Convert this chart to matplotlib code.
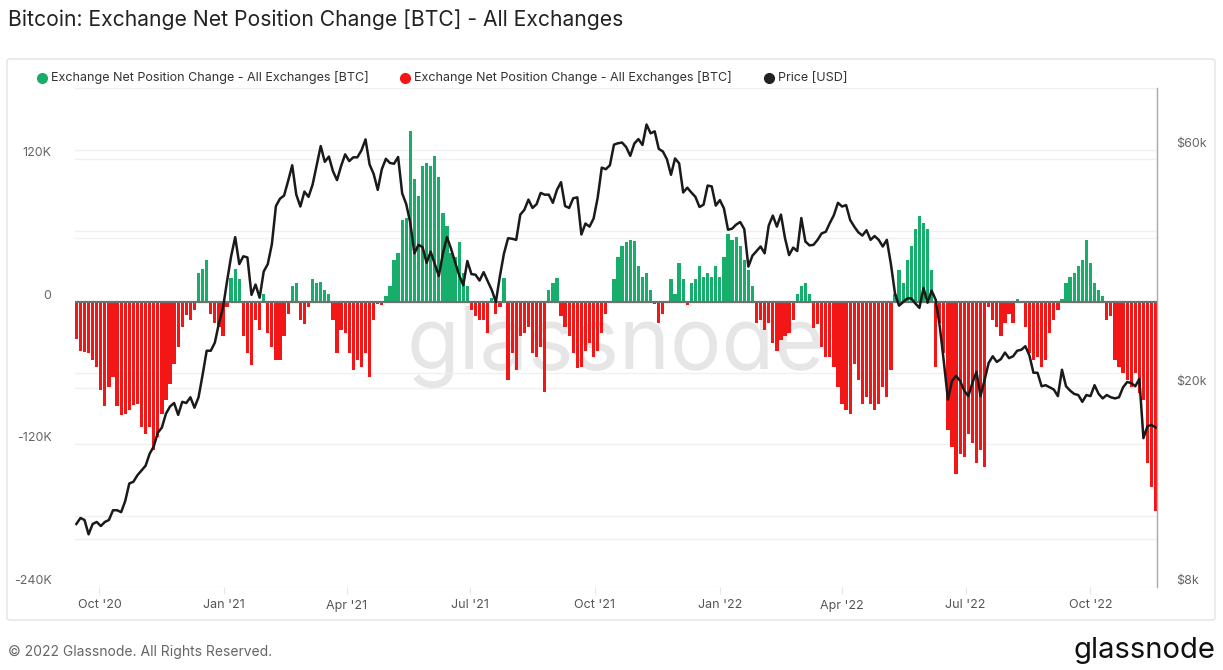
import matplotlib

matplotlib.use("Agg")
import matplotlib.dates as mdates
import matplotlib.pyplot as plt
import numpy as np
import pandas as pd
from matplotlib.patches import FancyBboxPatch
from matplotlib.ticker import FuncFormatter, NullLocator

plt.rcParams["font.family"] = ["Inter", "DejaVu Sans"]

START = "2020-09-14"
STEP = "3D"

# exchange net position change, thousands of BTC, one value every 3 days
net_change_k = [
    -31, -41, -42, -43, -49, -55, -74, -88, -72, -63, -88, -95, -94, -91, -87, -86,
    -105, -111, -105, -125, -114, -94, -83, -69, -52, -38, -21, -11, -15, -7,
    24, 28, 35, -10, -18, -21, -29, -4, 20, 28, 19, -29, -43, -53, -15, -24,
    7, -26, -38, -49, -49, -29, -10, 13, 16, -15, -19, -4, 19, 16, 17, 10, 7,
    -15, -43, -24, -26, -43, -57, -49, -55, -43, -63, -15, -2, -3,
    5, 13, 35, 41, 69, 71, 144, 103, 89, 114, 117, 114, 123, 105, 75, 64, 41, 38, 50, 24, 13,
    -7, -12, -15, -15, -26, 3, -10, -4, 20,
    -66, -43, -57, -29, -26, -21, -43, -46, -38, -76, 10, 16, 20,
    -12, -21, -29, -43, -56, -55, -41, -35, -46, -41, -26, -10, -1,
    19, 38, 47, 50, 52, 51, 30, 21, 24, 10, -2, -18, -10, 1, 19, 7, 33, 19, -3,
    16, 19, 30, 21, 24, 21, 30, 21, 38, 57, 52, 55, 47, 35, 27, 13,
    -18, -15, -24, -18, -35, -41, -32, -29, -26, -15, 7, 13, 16, 7,
    -22, -19, -38, -46, -46, -55, -72, -86, -91, -94, -52, -66, -86, -80, -86, -91, -86, -72, -80, -57,
    7, 27, 16, 35, 47, 61, 72, 66, 61, 27,
    -55, -18, -43, -108, -122, -145, -128, -131, -111, -119, -136, -125, -139,
    -4, -15, -21, -29, -18, -10, -18, 2, -1,
    -21, -43, -49, -46, -55, -49, -26, -15, -7,
    2, 16, 21, 24, 30, 35, 52, 33, 16, 10, 5,
    -15, -12, -49, -55, -60, -66, -72, -60, -77, -83, -136, -156, -176,
]

# BTC price, thousands of USD, same dates
price_k = [
    10.7, 11.0, 10.9, 10.2, 10.7, 10.8,
    10.6, 10.8, 10.9, 11.4, 11.4, 11.3, 11.9, 12.9, 13.0, 13.4,
    13.7, 14.0, 14.8, 15.3, 16.3, 16.7, 17.8, 18.4, 18.7, 17.7,
    18.8, 18.7, 19.2, 18.3, 19.2, 21.3, 23.8, 23.8, 24.7, 27.0, 29.0,
    32.8, 36.8, 40.2, 35.5, 36.8, 36.6, 30.8, 32.3, 30.4, 34.3,
    35.5, 38.9, 46.4, 48.0, 48.7, 52.1, 56.0, 48.9, 46.3,
    49.6, 48.4, 51.2, 56.0, 61.2, 56.9, 58.3, 54.5, 52.3, 55.8, 58.9,
    57.1, 58.1, 58.1, 60.0, 63.1, 56.2, 53.8, 50.0, 55.0, 57.7,
    56.6, 56.4, 58.2, 49.2, 46.8, 42.9, 37.3, 38.8, 38.4, 35.7,
    37.6, 35.5, 33.6, 37.3, 40.2, 38.1, 35.8, 33.7, 32.2, 36.0,
    33.9, 33.8, 32.9, 34.2, 32.8, 31.5, 29.8, 33.6, 37.3, 40.0,
    39.9, 39.7, 44.6, 45.6, 47.8, 46.0, 46.8, 49.3, 48.9, 48.9, 47.1,
    50.0, 51.8, 46.4, 46.0, 48.1, 48.3, 40.7, 42.8, 42.2, 43.8,
    48.2, 55.4, 55.0, 56.0, 61.6, 62.0, 62.2, 60.9, 58.5, 61.9,
    63.2, 61.5, 67.6, 64.9, 65.5, 60.4, 59.7, 57.6, 53.6, 57.8,
    56.5, 49.4, 50.5, 49.4, 48.4, 46.2, 46.7, 51.0, 50.8, 46.5,
    47.7, 45.9, 41.6, 41.8, 42.6, 43.1, 41.7, 35.1, 36.9, 37.7, 38.5,
    37.3, 42.4, 44.4, 42.2, 44.6, 40.0, 37.0, 38.3, 37.7,
    43.9, 39.4, 38.7, 38.8, 39.7, 40.9, 41.2, 42.9, 44.5, 47.1,
    46.3, 46.6, 43.5, 42.2, 41.1, 40.5, 41.5, 39.7, 40.4, 39.7,
    38.5, 39.7, 35.5, 31.0, 29.3, 29.8, 30.3, 30.3, 29.6, 29.0, 31.8,
    29.7, 31.4, 30.1, 26.6, 22.6, 19.0, 20.7, 21.2, 20.7, 19.8,
    19.3, 20.5, 21.6, 19.3, 20.8, 22.5, 23.2, 22.6, 22.9, 23.6,
    23.0, 23.2, 23.8, 23.9, 24.3, 23.3, 21.5, 21.5, 20.2, 20.3,
    20.1, 19.9, 19.3, 21.8, 20.2, 19.8, 19.5, 19.4, 18.8, 19.4,
    19.3, 20.3, 19.5, 19.1, 19.4, 19.2, 19.1, 19.2, 20.1, 20.6, 20.5,
    20.2, 20.9, 15.9, 16.8, 16.9, 16.7,
]

left_ticks = [-240000, -120000, 0, 120000]
left_labels = ["-240K", "-120K", "0", "120K"]
left_grid = [-240000, -180000, -120000, -60000, 0, 60000, 120000, 180000]
right_ticks = [8000, 20000, 60000]
right_labels = ["$8k", "$20k", "$60k"]
right_grid = [10000, 20000, 40000, 60000]

GREEN = "#17ad6a"
RED = "#f21616"
GRID = "#f0f0f0"

dates_bar = pd.date_range(START, periods=len(net_change_k), freq=STEP)
dates_price = pd.date_range(START, periods=len(price_k), freq=STEP)
net = np.array(net_change_k) * 1000.0
price = np.array(price_k) * 1000.0

W, H = 1223, 670
fig = plt.figure(figsize=(W / 100, H / 100), dpi=100)
fig.patch.set_facecolor("white")

# card frame (kept underneath every axes)
fig.patches.append(FancyBboxPatch((7 / W, 1 - 620 / H), 1208 / W, 561 / H,
                                  boxstyle="round,pad=0,rounding_size=0.003",
                                  transform=fig.transFigure, fc="white", ec="#e3e3e3",
                                  lw=1, zorder=-5))

rect = [75 / W, 1 - 587 / H, (1157 - 75) / W, (587 - 88) / H]
xlim = (pd.Timestamp("2020-09-13"), pd.Timestamp("2022-11-19"))

# background axes for the price gridlines
gax = fig.add_axes(rect, zorder=0, label="price_grid")
gax.patch.set_visible(False)
gax.set_yscale("log")
gax.set_ylim(8000, 80000)
gax.set_xlim(xlim)
gax.yaxis.set_minor_locator(NullLocator())
gax.set_yticks(right_grid)
gax.grid(axis="y", color=GRID, lw=1)
gax.tick_params(left=False, bottom=False, labelleft=False, labelbottom=False)
for s in gax.spines.values():
    s.set_visible(False)

ax = fig.add_axes(rect, zorder=1, label="bars")
ax.patch.set_visible(False)
ax.bar(dates_bar, net, width=2.4, color=np.where(net >= 0, GREEN, RED), zorder=2, lw=0)
ax.axhline(0, color="#707070", lw=1.6, zorder=3)
ax.set_ylim(-240000, 180000)
ax.set_xlim(xlim)
ax.set_yticks(left_ticks, labels=left_labels)
ax.set_yticks(left_grid, minor=True)
ax.grid(axis="y", which="both", color=GRID, lw=1)
ax.set_axisbelow(True)
ax.text(0.5, 0.48, "glassnode", transform=ax.transAxes, ha="center", va="center",
        fontsize=62, color="#e6e6e6", zorder=0.5)

ax.xaxis.set_major_locator(mdates.MonthLocator(bymonth=[1, 4, 7, 10]))
ax.xaxis.set_major_formatter(FuncFormatter(lambda v, _: mdates.num2date(v).strftime("%b '%y")))
ax.tick_params(axis="x", length=5, color="#e6e6e6", labelsize=9, labelcolor="#555555", pad=4)
ax.tick_params(axis="y", which="both", length=0, labelsize=9, labelcolor="#666666", pad=17)
for lab in ax.get_yticklabels():
    lab.set_verticalalignment("bottom")
for s in ax.spines.values():
    s.set_visible(False)

ax2 = ax.twinx()
ax2.set_zorder(2)
ax2.plot(dates_price, price, color="#1a1a1a", lw=1.8, zorder=4)
ax2.set_yscale("log")
ax2.set_ylim(8000, 80000)
ax2.yaxis.set_minor_locator(NullLocator())
ax2.set_yticks(right_ticks, labels=right_labels)
ax2.tick_params(axis="y", length=0, labelsize=9, labelcolor="#666666", pad=14)
for lab in ax2.get_yticklabels():
    lab.set_verticalalignment("bottom")
for k, s in ax2.spines.items():
    s.set_visible(k == "right")
ax2.spines["right"].set_color("#a8a8a8")
ax2.spines["right"].set_linewidth(1)

# title, legend, footer
fig.text(8 / W, 1 - 20 / H, "Bitcoin: Exchange Net Position Change [BTC] - All Exchanges",
         fontsize=15.2, color="#222222", va="center", ha="left")
legend_items = [
    (42, GREEN, "Exchange Net Position Change - All Exchanges [BTC]"),
    (405, RED, "Exchange Net Position Change - All Exchanges [BTC]"),
    (769, "#222222", "Price [USD]"),
]
for x0, col, label in legend_items:
    fig.lines.append(plt.Line2D([x0 / W], [1 - 78 / H], marker="o", ms=7, color=col,
                                transform=fig.transFigure))
    fig.text((x0 + 9) / W, 1 - 78 / H, label, fontsize=9.05, color="#333333",
             va="center", ha="left")
fig.text(8 / W, 1 - 652 / H, "\u00a9 2022 Glassnode. All Rights Reserved.",
         fontsize=10, color="#666666", va="center", ha="left")
fig.text(1215 / W, 1 - 650 / H, "glassnode", fontsize=21, color="#111111",
         va="center", ha="right")

fig.savefig("out.png", dpi=100)
plt.close(fig)
